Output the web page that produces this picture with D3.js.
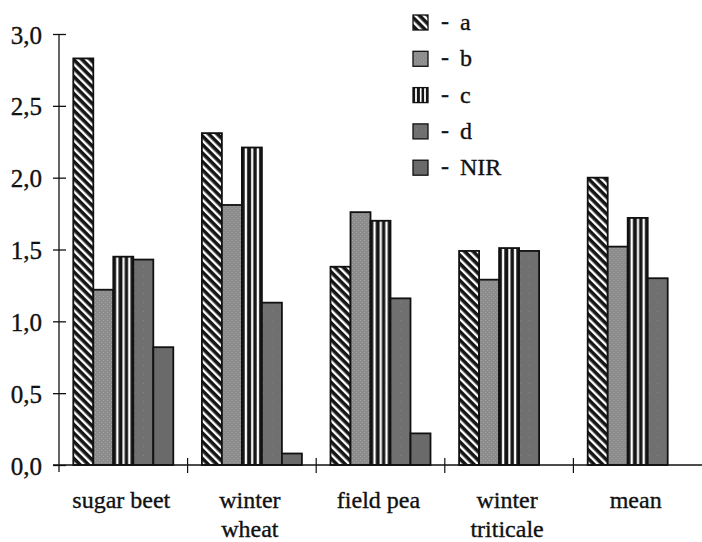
<!DOCTYPE html>
<html>
<head>
<meta charset="utf-8">
<script src="https://cdn.jsdelivr.net/npm/d3@7"></script>
<style>
   html, body { margin: 0; padding: 0; background: #fff; }
   svg { display: block; }
   text { font-family: 'Liberation Serif', 'Times New Roman', Times, serif; fill: #111; stroke: #111; stroke-width: 0.35px; }
</style>
</head>
<body>
<div class="chart-container"></div>
<script>
const categories = ['sugar beet', 'winter\nwheat', 'field pea', 'winter\ntriticale', 'mean'];
const seriesNames = ['a', 'b', 'c', 'd', 'NIR'];
const valuesA = [2.83, 2.31, 1.38, 1.49, 2.00];
const valuesB = [1.22, 1.81, 1.76, 1.29, 1.52];
const valuesC = [1.45, 2.21, 1.70, 1.51, 1.72];
const valuesD = [1.43, 1.13, 1.16, 1.49, 1.30];
const valuesNIR = [0.82, 0.08, 0.22, null, null];
const yTicks = [0, 0.5, 1.0, 1.5, 2.0, 2.5, 3.0];
const yTickLabels = ['0,0', '0,5', '1,0', '1,5', '2,0', '2,5', '3,0'];

const seriesValues = [valuesA, valuesB, valuesC, valuesD, valuesNIR];
const fills = ['url(#pat-a)', 'url(#pat-b)', 'url(#pat-c)', 'url(#pat-d)', 'url(#pat-nir)'];
const serifFont = "'Liberation Serif', 'Times New Roman', Times, serif";

let width = 702,
   height = 542;
let plot = { left: 59, right: 702, top: 34, bottom: 465 };

let svg = d3.select('.chart-container').append('svg')
   .attr('width', width)
   .attr('height', height);

svg.append('rect')
   .attr('width', width)
   .attr('height', height)
   .attr('fill', '#fff');

// patterns used by bars and legend
let defs = svg.append('defs');

let patA = defs.append('pattern')
   .attr('id', 'pat-a')
   .attr('patternUnits', 'userSpaceOnUse')
   .attr('width', 6)
   .attr('height', 6)
   .attr('patternTransform', 'rotate(45)');
patA.append('rect').attr('width', 6).attr('height', 6).attr('fill', '#fff');
patA.append('rect').attr('width', 6).attr('height', 3.6).attr('fill', '#151515');

let patB = defs.append('pattern')
   .attr('id', 'pat-b')
   .attr('patternUnits', 'userSpaceOnUse')
   .attr('width', 4)
   .attr('height', 4);
patB.append('rect').attr('width', 4).attr('height', 4).attr('fill', '#8c8c8c');
patB.append('rect').attr('x', 0).attr('y', 0).attr('width', 1).attr('height', 1).attr('fill', '#a6a6a6');
patB.append('rect').attr('x', 2).attr('y', 2).attr('width', 1).attr('height', 1).attr('fill', '#a2a2a2');

// vertical stripes stretched over each bar
let patC = defs.append('pattern')
   .attr('id', 'pat-c')
   .attr('patternUnits', 'objectBoundingBox')
   .attr('patternContentUnits', 'objectBoundingBox')
   .attr('width', 1)
   .attr('height', 1);
patC.append('rect').attr('width', 1).attr('height', 1).attr('fill', '#151515');
[[0.14, 0.12], [0.46, 0.11], [0.74, 0.12]].forEach(s => {
   patC.append('rect')
      .attr('x', s[0])
      .attr('width', s[1])
      .attr('height', 1)
      .attr('fill', '#fff');
});

let patD = defs.append('pattern')
   .attr('id', 'pat-d')
   .attr('patternUnits', 'userSpaceOnUse')
   .attr('width', 9)
   .attr('height', 9);
patD.append('rect').attr('width', 9).attr('height', 9).attr('fill', '#707070');
patD.append('rect').attr('x', 3).attr('y', 5).attr('width', 1).attr('height', 1).attr('fill', '#888');

let patNir = defs.append('pattern')
   .attr('id', 'pat-nir')
   .attr('patternUnits', 'userSpaceOnUse')
   .attr('width', 8)
   .attr('height', 8);
patNir.append('rect').attr('width', 8).attr('height', 8).attr('fill', '#6a6a6a');

let x0 = d3.scaleBand()
   .domain(categories)
   .range([plot.left, plot.right]);

let x1 = d3.scaleBand()
   .domain(seriesNames)
   .range([0, x0.bandwidth()])
   .paddingOuter(0.715);

let y = d3.scaleLinear()
   .domain([0, 3])
   .range([plot.bottom, plot.top]);

let data = categories.map((c, ci) => {
   return {
      category: c,
      values: seriesNames.map((s, si) => {
         return { name: s, value: seriesValues[si][ci], fill: fills[si] };
      }).filter(d => d.value !== null)
   };
});

// bars
let group = svg.selectAll('.group')
   .data(data)
   .enter().append('g')
   .attr('class', 'group')
   .attr('transform', d => `translate(${x0(d.category)}, 0)`);

group.selectAll('rect')
   .data(d => d.values)
   .enter().append('rect')
   .attr('x', d => x1(d.name))
   .attr('y', d => y(d.value))
   .attr('width', x1.bandwidth())
   .attr('height', d => y(0) - y(d.value))
   .attr('fill', d => d.fill)
   .attr('stroke', '#111')
   .attr('stroke-width', 1.8);

// y axis
let yAxis = d3.axisLeft(y)
   .tickValues(yTicks)
   .tickFormat((d, i) => yTickLabels[i])
   .tickSizeOuter(0);

let yAxisG = svg.append('g')
   .attr('class', 'y axis')
   .attr('transform', `translate(${plot.left}, 0)`)
   .call(yAxis)
   .attr('font-family', serifFont);

yAxisG.select('.domain').remove();
yAxisG.append('line')
   .attr('x1', 0).attr('x2', 0)
   .attr('y1', y(3)).attr('y2', y(0) + 7)
   .attr('stroke', '#111')
   .attr('stroke-width', 1.3);
yAxisG.selectAll('.tick line')
   .attr('x1', -6)
   .attr('x2', 7)
   .attr('stroke', '#111')
   .attr('stroke-width', 1.3);
yAxisG.selectAll('.tick text')
   .attr('x', -17)
   .attr('dy', '0.36em')
   .style('font-size', '25px')
   .style('font-family', serifFont)
   .attr('fill', '#111');

// x axis with ticks between groups
let xAxisG = svg.append('g')
   .attr('class', 'x axis');

xAxisG.append('line')
   .attr('x1', plot.left - 6)
   .attr('x2', plot.right)
   .attr('y1', y(0))
   .attr('y2', y(0))
   .attr('stroke', '#111')
   .attr('stroke-width', 1.3);

xAxisG.selectAll('.sep')
   .data(categories.slice(1))
   .enter().append('line')
   .attr('class', 'sep')
   .attr('x1', d => x0(d))
   .attr('x2', d => x0(d))
   .attr('y1', y(0) - 7)
   .attr('y2', y(0) + 8)
   .attr('stroke', '#111')
   .attr('stroke-width', 1.2);

let catLabel = xAxisG.selectAll('.cat')
   .data(categories)
   .enter().append('text')
   .attr('class', 'cat')
   .attr('text-anchor', 'middle')
   .style('font-family', serifFont)
   .style('font-size', '24px');

catLabel.selectAll('tspan')
   .data(d => d.split('\n').map(t => ({ t: t, c: d })))
   .enter().append('tspan')
   .attr('x', d => x0(d.c) + x0.bandwidth() / 2 - 2)
   .attr('y', (d, i) => 508 + i * 29)
   .text(d => d.t);

// legend
let legend = svg.selectAll('.legend')
   .data(seriesNames)
   .enter().append('g')
   .attr('class', 'legend')
   .attr('transform', (d, i) => `translate(413, ${15 + i * 36.3})`);

legend.append('rect')
   .attr('width', 15)
   .attr('height', 15)
   .attr('fill', (d, i) => fills[i])
   .attr('stroke', '#111')
   .attr('stroke-width', 1.3);

legend.append('text')
   .attr('x', 28)
   .attr('y', 14)
   .style('font-family', serifFont)
   .style('font-size', '24px')
   .text('-');

legend.append('text')
   .attr('x', 47)
   .attr('y', 15)
   .style('font-family', serifFont)
   .style('font-size', '24px')
   .text(d => d);
</script>
</body>
</html>
